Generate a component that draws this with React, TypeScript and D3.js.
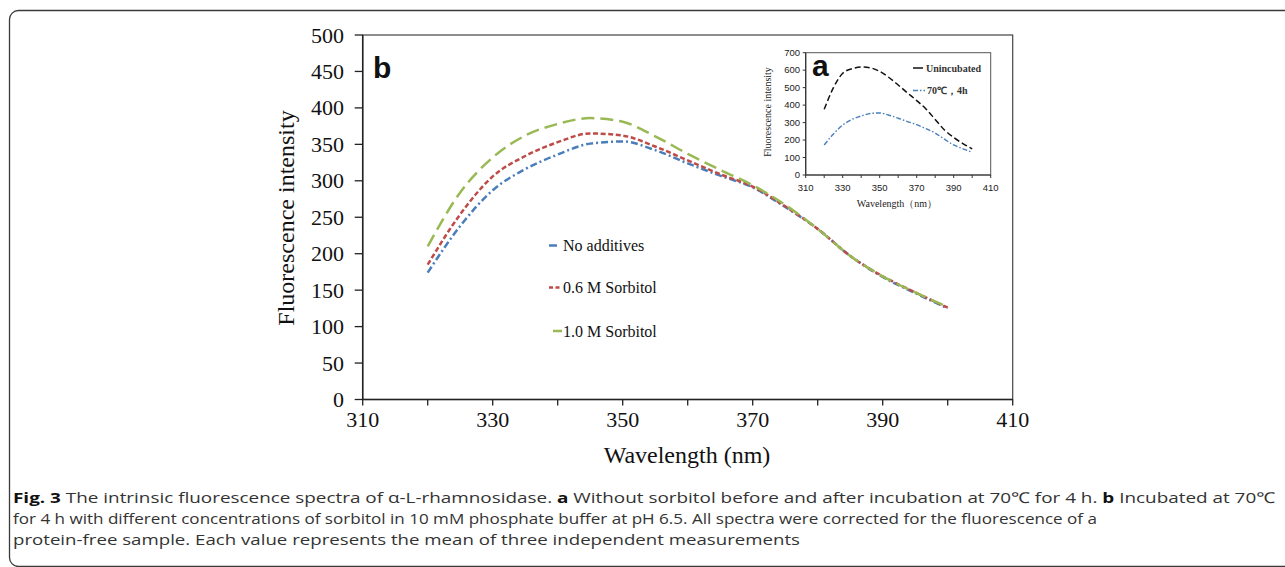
import React from "react";
import * as d3 from "d3";

const wavelengths = [320, 325, 330, 335, 340, 345, 350, 355, 360, 365, 370, 375, 380, 385, 390, 395, 400];
const noAdditives = [174, 238, 287, 316, 336, 351, 354, 342, 324, 307, 291, 264, 234, 197, 168, 146, 125];
const sorbitol06 = [185, 254, 306, 334, 353, 365, 362, 347, 328, 309, 292, 265, 234, 197, 169, 147, 126];
const sorbitol10 = [210, 284, 332, 362, 378, 386, 381, 361, 337, 315, 294, 267, 234, 197, 169, 147, 127];

const insetUnincubated = [376, 500, 582, 608, 618, 613, 593, 558, 515, 470, 426, 378, 318, 258, 215, 180, 149];
const insetIncubated = [172, 235, 286, 318, 338, 352, 355, 342, 325, 306, 288, 265, 240, 205, 172, 150, 130];

const mainXTicks = [310, 330, 350, 370, 390, 410];
const mainXMinor = [310, 320, 330, 340, 350, 360, 370, 380, 390, 400, 410];
const mainYTicks = [0, 50, 100, 150, 200, 250, 300, 350, 400, 450, 500];
const insetXTicks = [310, 330, 350, 370, 390, 410];
const insetXMinor = [310, 320, 330, 340, 350, 360, 370, 380, 390, 400, 410];
const insetYTicks = [0, 100, 200, 300, 400, 500, 600, 700];

const legendLabels = ["No additives", "0.6 M Sorbitol", "1.0 M Sorbitol"];
const insetLegendLabels = ["Unincubated", "70\u2103\uFF0C4h"];

const SERIF = "'Liberation Serif', 'Times New Roman', serif";
const SANS = "'Liberation Sans', Arial, sans-serif";
const CAP = "'Open Sans', 'Noto Sans', sans-serif";

export default function App() {
  const x = d3.scaleLinear().domain([310, 410]).range([362.7, 1012.7]);
  const y = d3.scaleLinear().domain([0, 500]).range([399.5, 35]);
  const xi = d3.scaleLinear().domain([310, 410]).range([805.7, 990.7]);
  const yi = d3.scaleLinear().domain([0, 700]).range([175, 52.7]);

  const mk = (sx: any, sy: any, vals: number[]) =>
    d3
      .line<number>()
      .x((_, i) => sx(wavelengths[i]))
      .y((v) => sy(v))
      .curve(d3.curveMonotoneX)(vals) as string;

  const series = [
    { vals: noAdditives, color: "#4a7ebb", dash: "7,3,2,3" },
    { vals: sorbitol06, color: "#be4b48", dash: "5,2.6" },
    { vals: sorbitol10, color: "#98b954", dash: "13,6" },
  ];

  const legendY = [245.5, 287.5, 331];

  return (
    <svg
      width={1285}
      height={567}
      style={{ position: "absolute", left: 0, top: 0, background: "#fff" }}
    >
      <rect x={0} y={0} width={1285} height={567} fill="#fff" />
      {/* outer border */}
      <rect x={9.5} y={10.5} width={1320} height={556} rx={9} fill="none" stroke="#3a3a3a" strokeWidth={1.3} />

      {/* main frame */}
      <rect
        x={x(310)}
        y={y(500)}
        width={x(410) - x(310)}
        height={y(0) - y(500)}
        fill="none"
        stroke="#444"
        strokeWidth={1.2}
      />
      <line x1={x(310)} x2={x(310)} y1={y(0)} y2={y(500)} stroke="#222" strokeWidth={1.5} />
      <line x1={x(310)} x2={x(410)} y1={y(0)} y2={y(0)} stroke="#222" strokeWidth={1.5} />

      {mainYTicks.map((t) => (
        <g key={"y" + t}>
          <line x1={x(310) - 8} x2={x(310)} y1={y(t)} y2={y(t)} stroke="#222" strokeWidth={1.3} />
          <text x={344} y={y(t) + 7.5} textAnchor="end" fontFamily={SERIF} fontSize={22} fill="#111">
            {t}
          </text>
        </g>
      ))}
      {mainXMinor.map((t) => (
        <line key={"xm" + t} x1={x(t)} x2={x(t)} y1={y(0)} y2={y(0) + 6} stroke="#222" strokeWidth={1.3} />
      ))}
      {mainXTicks.map((t) => (
        <text key={"x" + t} x={x(t)} y={427} textAnchor="middle" fontFamily={SERIF} fontSize={22} fill="#111">
          {t}
        </text>
      ))}
      <text x={687} y={463} textAnchor="middle" fontFamily={SERIF} fontSize={24} fill="#111">
        Wavelength (nm)
      </text>
      <text
        transform="translate(294,218) rotate(-90)"
        textAnchor="middle"
        fontFamily={SERIF}
        fontSize={24}
        fill="#111"
      >
        Fluorescence intensity
      </text>
      <text x={373} y={78} fontFamily={SANS} fontWeight="bold" fontSize={30} fill="#111">
        b
      </text>

      {/* main series */}
      {series.map((s, i) => (
        <path
          key={"s" + i}
          d={mk(x, y, s.vals)}
          fill="none"
          stroke={s.color}
          strokeWidth={2.5}
          strokeDasharray={s.dash}
        />
      ))}

      {/* main legend */}
      <line x1={549} x2={557} y1={legendY[0]} y2={legendY[0]} stroke="#4a7ebb" strokeWidth={2.5} />
      <line x1={549} x2={561} y1={legendY[1]} y2={legendY[1]} stroke="#be4b48" strokeWidth={2.5} strokeDasharray="4,2.5" />
      <line x1={553} x2={562} y1={legendY[2]} y2={legendY[2]} stroke="#98b954" strokeWidth={2.5} />
      {legendLabels.map((l, i) => (
        <text key={"l" + i} x={563} y={legendY[i] + 5.5} fontFamily={SERIF} fontSize={16} fill="#111">
          {l}
        </text>
      ))}

      {/* inset */}
      <rect
        x={xi(310)}
        y={yi(700)}
        width={xi(410) - xi(310)}
        height={yi(0) - yi(700)}
        fill="#fff"
        stroke="#555"
        strokeWidth={1}
      />
      <line x1={xi(310)} x2={xi(310)} y1={yi(0)} y2={yi(700)} stroke="#333" strokeWidth={1.2} />
      <line x1={xi(310)} x2={xi(410)} y1={yi(0)} y2={yi(0)} stroke="#333" strokeWidth={1.2} />
      {insetYTicks.map((t) => (
        <g key={"iy" + t}>
          <line x1={xi(310) - 3} x2={xi(310)} y1={yi(t)} y2={yi(t)} stroke="#333" strokeWidth={1} />
          <text x={800} y={yi(t) + 3.3} textAnchor="end" fontFamily={SANS} fontSize={9.5} fill="#222">
            {t}
          </text>
        </g>
      ))}
      {insetXMinor.map((t) => (
        <line key={"ixm" + t} x1={xi(t)} x2={xi(t)} y1={yi(0)} y2={yi(0) + 3} stroke="#333" strokeWidth={1} />
      ))}
      {insetXTicks.map((t) => (
        <text key={"ix" + t} x={xi(t)} y={190.5} textAnchor="middle" fontFamily={SANS} fontSize={9.5} fill="#222">
          {t}
        </text>
      ))}
      <text x={897} y={207} textAnchor="middle" fontFamily={SERIF} fontSize={10} fill="#222">
        {"Wavelength\uFF08nm\uFF09"}
      </text>
      <text
        transform="translate(771,112) rotate(-90)"
        textAnchor="middle"
        fontFamily={SERIF}
        fontSize={10}
        fill="#222"
      >
        Fluorescence intensity
      </text>
      <text x={812} y={76} fontFamily={SANS} fontWeight="bold" fontSize={30} fill="#111">
        a
      </text>
      <path d={mk(xi, yi, insetUnincubated)} fill="none" stroke="#111" strokeWidth={1.5} strokeDasharray="6,3" />
      <path d={mk(xi, yi, insetIncubated)} fill="none" stroke="#4a7ebb" strokeWidth={1.4} strokeDasharray="5,2,1.5,2" />
      <line x1={913} x2={923} y1={68} y2={68} stroke="#111" strokeWidth={1.5} />
      <line x1={913} x2={925} y1={90.5} y2={90.5} stroke="#4a7ebb" strokeWidth={1.4} strokeDasharray="5,2,1.5,2" />
      <text x={926} y={71.5} fontFamily={SERIF} fontWeight="bold" fontSize={10} fill="#333">
        {insetLegendLabels[0]}
      </text>
      <text x={927} y={94} fontFamily={SERIF} fontWeight="bold" fontSize={10} fill="#333">
        {insetLegendLabels[1]}
      </text>

      {/* caption */}
      <text x={13} y={503} fontFamily={CAP} fontSize={15} fill="#333" textLength={1262} lengthAdjust="spacingAndGlyphs">
        <tspan fontWeight="bold" fill="#111">Fig. 3</tspan>
        {" The intrinsic fluorescence spectra of \u03B1-L-rhamnosidase. "}
        <tspan fontWeight="bold" fill="#111">a</tspan>
        {" Without sorbitol before and after incubation at 70\u2103 for 4 h. "}
        <tspan fontWeight="bold" fill="#111">b</tspan>
        {" Incubated at 70\u2103"}
      </text>
      <text x={13} y={524} fontFamily={CAP} fontSize={15} fill="#333" textLength={1084} lengthAdjust="spacingAndGlyphs">
        for 4 h with different concentrations of sorbitol in 10 mM phosphate buffer at pH 6.5. All spectra were corrected for the fluorescence of a
      </text>
      <text x={13} y={545} fontFamily={CAP} fontSize={15} fill="#333" textLength={787} lengthAdjust="spacingAndGlyphs">
        protein-free sample. Each value represents the mean of three independent measurements
      </text>
    </svg>
  );
}
